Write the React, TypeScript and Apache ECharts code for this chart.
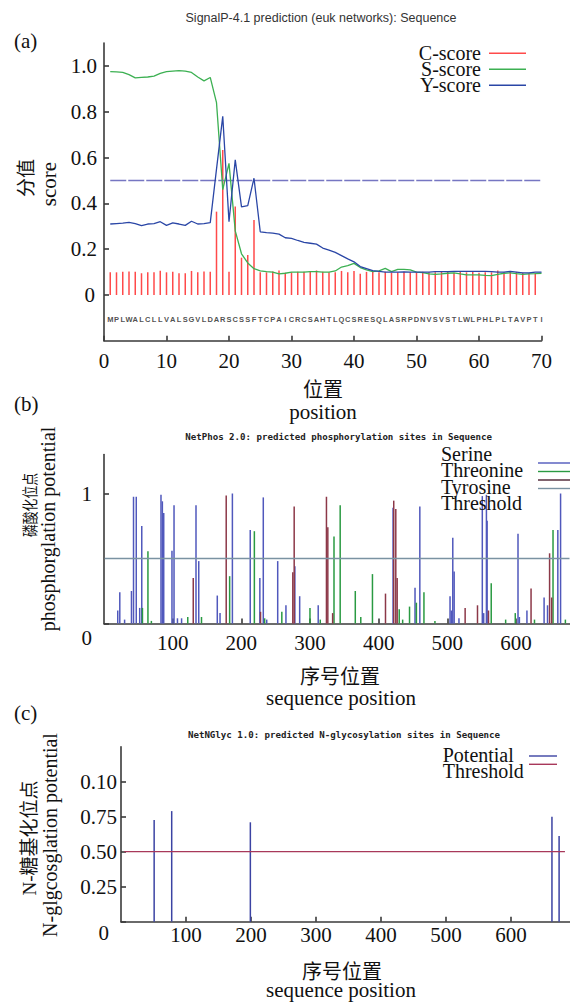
import React, { useEffect, useRef } from "react";
import * as echarts from "echarts";

// ---------- Panel (a) data: SignalP-4.1 ----------
const SEQUENCE = "MPLWALCLLVALSGVLDARSCSSFTCPAICRCSAHTLQCSRESQLASRPDNVSVSTLWLPHLPLTAVPTI".split("");
const C_SCORE = [
  0.099, 0.099, 0.101, 0.103, 0.101, 0.095, 0.099, 0.099, 0.106, 0.099,
  0.101, 0.095, 0.095, 0.105, 0.099, 0.103, 0.101, 0.364, 0.633, 0.101,
  0.386, 0.163, 0.175, 0.328, 0.099, 0.099, 0.103, 0.107, 0.097, 0.099,
  0.101, 0.101, 0.101, 0.107, 0.101, 0.099, 0.099, 0.105, 0.099, 0.105,
  0.093, 0.101, 0.101, 0.099, 0.101, 0.097, 0.099, 0.101, 0.099, 0.099,
  0.101, 0.099, 0.099, 0.101, 0.101, 0.097, 0.101, 0.099, 0.101, 0.097,
  0.099, 0.099, 0.107, 0.099, 0.101, 0.101, 0.097, 0.095, 0.095,
];
const S_SCORE = [
  0.975, 0.974, 0.972, 0.962, 0.948, 0.95, 0.952, 0.956, 0.968, 0.975,
  0.978, 0.98, 0.978, 0.972, 0.952, 0.935, 0.95, 0.84, 0.46, 0.575,
  0.28, 0.18, 0.14, 0.115, 0.105, 0.102, 0.1, 0.092, 0.095, 0.1,
  0.1, 0.1, 0.102, 0.102, 0.1, 0.1, 0.105, 0.122, 0.128, 0.138,
  0.12, 0.11, 0.102, 0.105, 0.116, 0.102, 0.112, 0.112, 0.11, 0.1,
  0.098, 0.092, 0.09, 0.092, 0.095, 0.097, 0.092, 0.088, 0.088, 0.088,
  0.086, 0.085, 0.09, 0.095, 0.097, 0.093, 0.09, 0.092, 0.093, 0.095,
];
const Y_SCORE = [
  0.31, 0.312, 0.314, 0.317, 0.312, 0.303, 0.31, 0.312, 0.32, 0.304,
  0.315, 0.31, 0.304, 0.322, 0.31, 0.312, 0.316, 0.55, 0.78, 0.32,
  0.59, 0.385, 0.39, 0.51, 0.276, 0.272, 0.27, 0.266, 0.25, 0.247,
  0.238, 0.23, 0.226, 0.222, 0.205, 0.196, 0.186, 0.172, 0.158, 0.145,
  0.124, 0.115, 0.106, 0.103, 0.1, 0.1, 0.1, 0.101, 0.1, 0.1,
  0.1, 0.1, 0.102, 0.102, 0.102, 0.103, 0.103, 0.103, 0.103, 0.103,
  0.103, 0.102, 0.1, 0.1, 0.103, 0.1, 0.097, 0.097, 0.1, 0.1,
];
const A_THRESHOLD = 0.5;
const A_X_TICKS = [0, 10, 20, 30, 40, 50, 60, 70];
const A_Y_TICKS = [0, 0.2, 0.4, 0.6, 0.8, 1.0];
const A_Y_LABELS = ["0", "0.2", "0.4", "0.6", "0.8", "1.0"];

// ---------- Panel (b) data: NetPhos 2.0 ----------
const SERINE = [
  [20, 0.1], [23, 0.24], [30, 0.03], [40, 0.25], [43, 0.975], [47, 0.975], [52, 0.12], [55, 0.75],
  [83, 0.99], [85, 0.94], [87, 0.85], [99, 0.56], [102, 0.91], [107, 0.04], [113, 0.04], [134, 0.91],
  [138, 0.48], [165, 0.215], [169, 0.08], [187, 1.0], [213, 0.72], [227, 0.35], [232, 0.97], [237, 0.03],
  [253, 0.48], [265, 0.14], [278, 0.44], [285, 0.21], [312, 0.14], [421, 0.89], [453, 0.275], [460, 0.9],
  [504, 0.21], [506, 0.1], [508, 0.66], [510, 0.4], [517, 0.04], [551, 0.98], [553, 0.08], [557, 0.99],
  [558, 0.79], [603, 0.69], [605, 0.05], [616, 0.1], [641, 0.2], [646, 0.14], [661, 0.72], [665, 1.0],
];
const THREONINE = [
  [56, 0.12], [64, 0.556], [69, 0.02], [122, 0.05], [142, 0.05], [183, 0.364], [219, 0.71], [234, 0.04],
  [259, 0.09], [300, 0.12], [315, 0.03], [335, 0.67], [344, 0.91], [366, 0.25], [374, 0.05], [391, 0.38],
  [430, 0.11], [435, 0.03], [445, 0.13], [455, 0.16], [466, 0.24], [482, 0.02], [564, 0.31], [585, 0.03],
  [599, 0.08], [627, 0.03], [654, 0.72], [672, 0.03],
];
const TYROSINE = [
  [130, 0.35], [178, 0.985], [228, 0.09], [275, 0.395], [277, 0.9], [324, 0.975], [326, 0.74], [333, 0.08],
  [410, 0.23], [422, 0.945], [425, 0.88], [427, 0.35], [526, 0.12], [544, 0.14], [560, 0.1], [622, 0.27],
  [649, 0.54], [652, 0.2],
];
const B_THRESHOLD = 0.5;
const B_THRESHOLD_RANGE = [1, 678];
const B_X_TICKS = [100, 200, 300, 400, 500, 600];
const B_Y_TICKS = [0, 1];
const B_Y_LABELS = ["0", "1"];

// ---------- Panel (c) data: NetNGlyc 1.0 ----------
const POTENTIAL = [[51, 0.726], [78, 0.79], [199, 0.71], [663, 0.75], [674, 0.612]];
const C_THRESHOLD = 0.5;
const C_THRESHOLD_RANGE = [5, 683];
const C_X_TICKS = [100, 200, 300, 400, 500, 600];
const C_Y_TICKS = [0, 0.25, 0.5, 0.75, 1.0];
const C_Y_LABELS = ["0", "0.25", "0.50", "0.75", "0.10"];

// ---------- styling ----------
const SERIF = "Liberation Serif, Noto Sans CJK SC, serif";
const SANS = "Liberation Sans, Arial, sans-serif";
const MONO = "DejaVu Sans Mono, monospace";
const AXIS_COLOR = "#3a3a3a";
const TEXT = "#111";

const C_COLOR = "#ff4a4a";
const S_COLOR = "#3cb052";
const Y_COLOR = "#2a46a6";
const A_TH_COLOR = "#7676c2";
const SER_COLOR = "#5058bc";
const THR_COLOR = "#2a9a42";
const TYR_COLOR = "#8c3848";
const B_TH_COLOR = "#7a92a2";
const POT_COLOR = "#3b43a3";
const C_TH_COLOR = "#a8385a";

function txt(text: string, x: number, y: number, size: number, o: any = {}) {
  const align = o.align || "center";
  return {
    type: "text",
    x,
    y,
    rotation: o.rot || 0,
    scaleX: o.sx || 1,
    silent: true,
    z: 10,
    style: {
      text,
      fill: o.color || TEXT,
      font: `${o.weight || "normal"} ${size}px ${o.family || SERIF}`,
      textAlign: align,
      align,
      textVerticalAlign: "middle",
      verticalAlign: "middle",
    },
  };
}
function seg(x1: number, y1: number, x2: number, y2: number, color: string, w = 1.4) {
  return { type: "line", silent: true, z: 10, shape: { x1, y1, x2, y2 }, style: { stroke: color, lineWidth: w } };
}

function labelFrom(ticks: number[], labels: string[]) {
  return (v: number) => {
    const i = ticks.findIndex((t) => Math.abs(t - v) < 1e-6);
    if (i < 0) return "";
    const s = labels[i];
    return Math.abs(v) < 1e-9 ? `{z|${s}}` : `{s|${s}}`;
  };
}

const RICH_S = { fontSize: 21, fontFamily: SERIF, color: TEXT };

function axisLine() {
  return { show: true, onZero: false, lineStyle: { color: AXIS_COLOR, width: 1.6 } };
}
function tick(values: number[]) {
  return { show: true, inside: true, length: 5, customValues: values, lineStyle: { color: AXIS_COLOR, width: 1.6 } };
}
function label(values: number[], labels: string[], margin: number, zeroPad: number[]) {
  return {
    fontSize: 21, fontFamily: SERIF, color: TEXT, margin,
    customValues: values,
    formatter: labelFrom(values, labels),
    rich: { s: RICH_S, z: { ...RICH_S, padding: zeroPad } },
  };
}

export default function App() {
  const ref = useRef<HTMLDivElement>(null);
  useEffect(() => {
    if (!ref.current) return;
    const chart = echarts.init(ref.current, undefined, { renderer: "svg" });

    const grids = [
      { left: 104, top: 43.1, width: 437.5, height: 297.7, outerBoundsMode: "none", containLabel: false },
      { left: 104, top: 454.5, width: 465.5, height: 169, outerBoundsMode: "none", containLabel: false },
      { left: 121, top: 746.7, width: 448.5, height: 175, outerBoundsMode: "none", containLabel: false },
    ];

    const xAxis = [
      {
        type: "value", gridIndex: 0, min: 0, max: 70,
        axisLine: axisLine(), axisTick: tick(A_X_TICKS), splitLine: { show: false },
        axisLabel: label(A_X_TICKS, A_X_TICKS.map(String), 10, [0, 0, 0, 0]),
      },
      {
        type: "value", gridIndex: 1, min: 0, max: 678,
        axisLine: axisLine(), axisTick: tick(B_X_TICKS), splitLine: { show: false },
        axisLabel: label(B_X_TICKS, B_X_TICKS.map(String), 9, [0, 0, 0, 0]),
      },
      {
        type: "value", gridIndex: 2, min: 0, max: 690,
        axisLine: axisLine(), axisTick: tick(C_X_TICKS), splitLine: { show: false },
        axisLabel: label(C_X_TICKS, C_X_TICKS.map(String), 3, [0, 0, 0, 0]),
      },
    ];
    const yAxis = [
      {
        type: "value", gridIndex: 0, min: -0.2, max: 1.1,
        axisLine: axisLine(), axisTick: tick(A_Y_TICKS), splitLine: { show: false },
        axisLabel: label(A_Y_TICKS, A_Y_LABELS, 7, [0, 2, 0, 0]),
      },
      {
        type: "value", gridIndex: 1, min: 0, max: 1.3,
        axisLine: axisLine(), axisTick: tick(B_Y_TICKS), splitLine: { show: false },
        axisLabel: label(B_Y_TICKS, B_Y_LABELS, 12, [28, 0, 0, 0]),
      },
      {
        type: "value", gridIndex: 2, min: 0, max: 1.25,
        axisLine: axisLine(), axisTick: tick(C_Y_TICKS), splitLine: { show: false },
        axisLabel: label(C_Y_TICKS, C_Y_LABELS, 4, [22, 8, 0, 0]),
      },
    ];

    const barBase = { type: "bar", barWidth: 1.5, barGap: "-100%", silent: true };
    const lineBase = { type: "line", showSymbol: false, symbol: "none", silent: true };

    const series: any[] = [
      {
        ...barBase, name: "C-score", xAxisIndex: 0, yAxisIndex: 0,
        data: C_SCORE.map((v, i) => [i + 1, v]), itemStyle: { color: C_COLOR },
      },
      {
        ...lineBase, name: "Threshold-a", xAxisIndex: 0, yAxisIndex: 0,
        data: [[1, A_THRESHOLD], [SEQUENCE.length, A_THRESHOLD]],
        lineStyle: { color: A_TH_COLOR, width: 1.3, type: [16, 2] },
      },
      {
        ...lineBase, name: "S-score", xAxisIndex: 0, yAxisIndex: 0,
        data: S_SCORE.map((v, i) => [i + 1, v]), lineStyle: { color: S_COLOR, width: 1.3 },
      },
      {
        ...lineBase, name: "Y-score", xAxisIndex: 0, yAxisIndex: 0,
        data: Y_SCORE.map((v, i) => [i + 1, v]), lineStyle: { color: Y_COLOR, width: 1.3 },
      },
      {
        type: "scatter", name: "seq", xAxisIndex: 0, yAxisIndex: 0, silent: true,
        symbolSize: 0.1, itemStyle: { color: "rgba(0,0,0,0)" },
        data: SEQUENCE.map((c, i) => ({ name: c, value: [i + 1, -0.105] })),
        label: {
          show: true, position: "inside", formatter: "{b}",
          fontSize: 7.5, fontWeight: "bold", fontFamily: SANS, color: "#222",
        },
      },
      {
        ...barBase, name: "Serine", xAxisIndex: 1, yAxisIndex: 1, data: SERINE, itemStyle: { color: SER_COLOR },
      },
      {
        ...barBase, name: "Threonine", xAxisIndex: 1, yAxisIndex: 1, data: THREONINE, itemStyle: { color: THR_COLOR },
      },
      {
        ...barBase, name: "Tyrosine", xAxisIndex: 1, yAxisIndex: 1, data: TYROSINE, itemStyle: { color: TYR_COLOR },
      },
      {
        ...lineBase, name: "Threshold-b", xAxisIndex: 1, yAxisIndex: 1,
        data: B_THRESHOLD_RANGE.map((x) => [x, B_THRESHOLD]), lineStyle: { color: B_TH_COLOR, width: 1.3 },
      },
      {
        ...barBase, name: "Potential", xAxisIndex: 2, yAxisIndex: 2, data: POTENTIAL, itemStyle: { color: POT_COLOR },
      },
      {
        ...lineBase, name: "Threshold-c", xAxisIndex: 2, yAxisIndex: 2,
        data: C_THRESHOLD_RANGE.map((x) => [x, C_THRESHOLD]), lineStyle: { color: C_TH_COLOR, width: 1.3 },
      },
    ];

    const R = Math.PI / 2;
    const graphic: any[] = [
      // panel (a)
      txt("(a)", 14, 41, 21, { align: "left" }),
      txt("SignalP-4.1 prediction (euk networks): Sequence", 321, 18, 12.5, { family: SANS, color: "#333" }),
      txt("C-score", 481, 53.3, 20, { align: "right" }),
      txt("S-score", 481, 69.3, 20, { align: "right" }),
      txt("Y-score", 481, 85.3, 20, { align: "right" }),
      seg(489, 53.3, 526, 53.3, C_COLOR),
      seg(489, 69.3, 526, 69.3, S_COLOR),
      seg(489, 85.3, 526, 85.3, Y_COLOR),
      txt("分值", 26, 178, 19, { rot: R }),
      txt("score", 49, 184, 21, { rot: R }),
      txt("位置", 323, 390, 20),
      txt("position", 323, 412, 21),
      // panel (b)
      txt("(b)", 14, 404, 21, { align: "left" }),
      txt("NetPhos 2.0: predicted phosphorylation sites in Sequence", 338.6, 437.3, 9.1, { family: MONO, weight: "bold", color: "#222" }),
      txt("Serine", 441, 454.3, 20, { align: "left" }),
      txt("Threonine", 441, 470.3, 20, { align: "left" }),
      txt("Tyrosine", 441, 486.7, 20, { align: "left" }),
      txt("Threshold", 441, 502.7, 20, { align: "left" }),
      seg(538, 463, 570, 463, SER_COLOR),
      seg(538, 471.5, 570, 471.5, THR_COLOR),
      seg(538, 480, 570, 480, "#4a2030"),
      seg(538, 488.5, 570, 488.5, B_TH_COLOR),
      txt("磷酸化位点", 30, 505, 16, { rot: R, sx: 0.8 }),
      txt("phosphorglation potential", 48, 529, 20, { rot: R }),
      txt("序号位置", 340, 677, 20),
      txt("sequence position", 341, 698, 21),
      // panel (c)
      txt("(c)", 14, 713, 21, { align: "left" }),
      txt("NetNGlyc 1.0: predicted N-glycosylation sites in Sequence", 344, 735.3, 9.1, { family: MONO, weight: "bold", color: "#222" }),
      txt("Potential", 442.7, 755, 20, { align: "left" }),
      txt("Threshold", 442.7, 770.5, 20, { align: "left" }),
      seg(529, 756, 557, 756, POT_COLOR),
      seg(529, 764.3, 557, 764.3, C_TH_COLOR),
      txt("N-糖基化位点", 29, 838, 19, { rot: R }),
      txt("N-glgcosglation potential", 50, 835, 20, { rot: R }),
      txt("序号位置", 342, 971.5, 20),
      txt("sequence position", 341, 990, 21),
    ];

    chart.setOption({
      animation: false,
      backgroundColor: "#ffffff",
      textStyle: { fontFamily: SERIF },
      grid: grids,
      xAxis,
      yAxis,
      series,
      graphic,
    });
    return () => chart.dispose();
  }, []);

  return (
    <div
      ref={ref}
      style={{ position: "absolute", left: 0, top: 0, width: 570, height: 1005, background: "#fff" }}
    />
  );
}
